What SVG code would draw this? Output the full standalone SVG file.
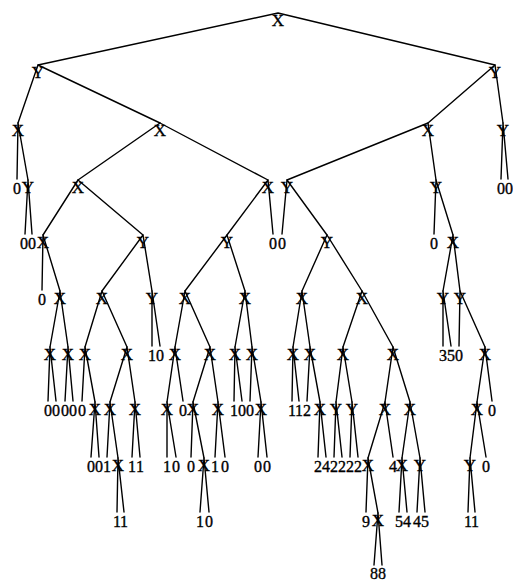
<svg xmlns="http://www.w3.org/2000/svg" width="513" height="584" viewBox="0 0 513 584">
<style>
  .bg{fill:#fff}
  #edges path{fill:none;stroke:#000;stroke-width:1.4;stroke-linecap:round}
  text{font-family:"Liberation Serif","DejaVu Serif",serif;fill:#000;text-anchor:middle;stroke:#000;stroke-width:0.35}
  .i text{font-size:17px}
  .l text{font-size:16px}
</style>
<rect class="bg" width="513" height="584"/>
<g id="edges">
  <path d="M278 13L38 65M278 13L495 65"/>
  <path d="M38 65L18 123M38 65L160 123"/>
  <path d="M495 65L428 123M495 65L503 123"/>
  <path d="M18 123L17 179M18 123L28 180"/>
  <path d="M28 180L25 234M28 180L32 234"/>
  <path d="M160 123L78 180M160 123L268 180"/>
  <path d="M78 180L43 235M78 180L143 235"/>
  <path d="M43 235L42 290M43 235L60 291"/>
  <path d="M60 291L50 347M60 291L68 347"/>
  <path d="M50 347L48 401M50 347L56 401"/>
  <path d="M68 347L65 401M68 347L73 401"/>
  <path d="M143 235L102 291M143 235L152 291"/>
  <path d="M102 291L85 347M102 291L127 347"/>
  <path d="M85 347L82 401M85 347L95 402"/>
  <path d="M95 402L91 457M95 402L99 457"/>
  <path d="M127 347L110 402M127 347L135 402"/>
  <path d="M110 402L107 457M110 402L118 458"/>
  <path d="M118 458L117 512M118 458L124 512"/>
  <path d="M135 402L132 457M135 402L140 457"/>
  <path d="M152 291L152 346M152 291L160 346"/>
  <path d="M268 180L227 235M268 180L273 234"/>
  <path d="M227 235L185 291M227 235L245 291"/>
  <path d="M185 291L175 347M185 291L210 347"/>
  <path d="M175 347L167 402M175 347L183 401"/>
  <path d="M167 402L167 457M167 402L176 457"/>
  <path d="M210 347L193 402M210 347L218 402"/>
  <path d="M193 402L191 457M193 402L204 458"/>
  <path d="M204 458L200 512M204 458L209 512"/>
  <path d="M218 402L215 457M218 402L225 457"/>
  <path d="M245 291L235 347M245 291L252 347"/>
  <path d="M235 347L234 401M235 347L242 401"/>
  <path d="M252 347L250 401M252 347L261 402"/>
  <path d="M261 402L258 457M261 402L267 457"/>
  <path d="M428 123L287 180M428 123L436 180"/>
  <path d="M287 180L282 234M287 180L327 235"/>
  <path d="M327 235L302 291M327 235L362 291"/>
  <path d="M302 291L293 347M302 291L310 347"/>
  <path d="M293 347L292 401M293 347L299 401"/>
  <path d="M310 347L307 401M310 347L320 402"/>
  <path d="M320 402L318 457M320 402L326 457"/>
  <path d="M362 291L343 347M362 291L393 347"/>
  <path d="M343 347L336 402M343 347L352 402"/>
  <path d="M336 402L334 457M336 402L342 457"/>
  <path d="M352 402L350 457M352 402L358 457"/>
  <path d="M393 347L385 402M393 347L410 402"/>
  <path d="M385 402L368 458M385 402L393 457"/>
  <path d="M368 458L366 512M368 458L378 513"/>
  <path d="M378 513L374 565M378 513L382 565"/>
  <path d="M410 402L402 458M410 402L420 458"/>
  <path d="M402 458L399 512M402 458L407 512"/>
  <path d="M420 458L417 512M420 458L425 512"/>
  <path d="M436 180L434 234M436 180L453 235"/>
  <path d="M453 235L443 291M453 235L460 291"/>
  <path d="M443 291L443 346M443 291L451 346"/>
  <path d="M460 291L459 346M460 291L485 347"/>
  <path d="M485 347L477 402M485 347L492 401"/>
  <path d="M477 402L470 458M477 402L486 457"/>
  <path d="M470 458L468 512M470 458L475 512"/>
  <path d="M503 123L501 179M503 123L508 179"/>
</g>
<!-- inner nodes: glyph hangs just below the point where its edges meet -->
<g class="i">
  <g id="n0"><text x="278" y="26">X</text></g>
  <g id="nA"><text x="38" y="78">Y</text></g>
  <g id="nB"><text x="495" y="78">Y</text></g>
  <g id="nC"><text x="18" y="136">X</text></g>
  <g id="nD"><text x="160" y="136">X</text></g>
  <g id="nE"><text x="428" y="136">X</text></g>
  <g id="nF"><text x="503" y="136">Y</text></g>
  <g id="nG"><text x="28" y="193">Y</text></g>
  <g id="nH"><text x="78" y="193">X</text></g>
  <g id="nI"><text x="268" y="193">X</text></g>
  <g id="nY1"><text x="287" y="193">Y</text></g>
  <g id="nY2"><text x="436" y="193">Y</text></g>
  <g id="nJ"><text x="43" y="248">X</text></g>
  <g id="nK"><text x="143" y="248">Y</text></g>
  <g id="nW"><text x="227" y="248">Y</text></g>
  <g id="nY3"><text x="327" y="248">Y</text></g>
  <g id="nZ1"><text x="453" y="248">X</text></g>
  <g id="nL"><text x="60" y="304">X</text></g>
  <g id="nO"><text x="102" y="304">X</text></g>
  <g id="nP"><text x="152" y="304">Y</text></g>
  <g id="nX1"><text x="185" y="304">X</text></g>
  <g id="nX2"><text x="245" y="304">X</text></g>
  <g id="nY4"><text x="302" y="304">X</text></g>
  <g id="nY5"><text x="362" y="304">X</text></g>
  <g id="nZ2"><text x="443" y="304">Y</text></g>
  <g id="nZ3"><text x="460" y="304">Y</text></g>
  <g id="nM"><text x="50" y="360">X</text></g>
  <g id="nN"><text x="68" y="360">X</text></g>
  <g id="nQ"><text x="85" y="360">X</text></g>
  <g id="nR"><text x="127" y="360">X</text></g>
  <g id="nX3"><text x="175" y="360">X</text></g>
  <g id="nX4"><text x="210" y="360">X</text></g>
  <g id="nX9"><text x="235" y="360">X</text></g>
  <g id="nX10"><text x="252" y="360">X</text></g>
  <g id="nY6"><text x="293" y="360">X</text></g>
  <g id="nY7"><text x="310" y="360">X</text></g>
  <g id="nY9"><text x="343" y="360">X</text></g>
  <g id="nY10"><text x="393" y="360">X</text></g>
  <g id="nZ4"><text x="485" y="360">X</text></g>
  <g id="nS"><text x="95" y="415">X</text></g>
  <g id="nT"><text x="110" y="415">X</text></g>
  <g id="nU"><text x="135" y="415">X</text></g>
  <g id="nX5"><text x="167" y="415">X</text></g>
  <g id="nX6"><text x="193" y="415">X</text></g>
  <g id="nX7"><text x="218" y="415">X</text></g>
  <g id="nX11"><text x="261" y="415">X</text></g>
  <g id="nY8"><text x="320" y="415">X</text></g>
  <g id="nY11"><text x="336" y="415">Y</text></g>
  <g id="nY12"><text x="352" y="415">Y</text></g>
  <g id="nY13"><text x="385" y="415">X</text></g>
  <g id="nY14"><text x="410" y="415">X</text></g>
  <g id="nZ5"><text x="477" y="415">X</text></g>
  <g id="nV"><text x="118" y="471">X</text></g>
  <g id="nX8"><text x="204" y="471">X</text></g>
  <g id="nY15"><text x="368" y="471">X</text></g>
  <g id="nY17"><text x="402" y="471">X</text></g>
  <g id="nY18"><text x="420" y="471">Y</text></g>
  <g id="nZ6"><text x="470" y="471">Y</text></g>
  <g id="nY16"><text x="378" y="526">X</text></g>
</g>
<!-- leaves: one digit each -->
<g class="l">
  <g id="c1"><text x="17" y="194">0</text></g>
  <g id="f1"><text x="501" y="194">0</text></g>
  <g id="f2"><text x="509" y="194">0</text></g>
  <g id="g1"><text x="24" y="249">0</text></g>
  <g id="g2"><text x="32" y="249">0</text></g>
  <g id="i1"><text x="273" y="249">0</text></g>
  <g id="y1a"><text x="282" y="249">0</text></g>
  <g id="y2a"><text x="434" y="249">0</text></g>
  <g id="j1"><text x="42" y="305">0</text></g>
  <g id="p1"><text x="152" y="361">1</text></g>
  <g id="p2"><text x="160" y="361">0</text></g>
  <g id="z2a"><text x="443" y="361">3</text></g>
  <g id="z2b"><text x="451" y="361">5</text></g>
  <g id="z3a"><text x="459" y="361">0</text></g>
  <g id="m1"><text x="48" y="416">0</text></g>
  <g id="m2"><text x="56" y="416">0</text></g>
  <g id="nn1"><text x="65" y="416">0</text></g>
  <g id="nn2"><text x="73" y="416">0</text></g>
  <g id="q1"><text x="82" y="416">0</text></g>
  <g id="x3a"><text x="183" y="416">0</text></g>
  <g id="x9a"><text x="234" y="416">1</text></g>
  <g id="x9b"><text x="242" y="416">0</text></g>
  <g id="x10a"><text x="250" y="416">0</text></g>
  <g id="y6a"><text x="292" y="416">1</text></g>
  <g id="y6b"><text x="299" y="416">1</text></g>
  <g id="y7a"><text x="307" y="416">2</text></g>
  <g id="z4a"><text x="492" y="416">0</text></g>
  <g id="s1"><text x="91" y="472">0</text></g>
  <g id="s2"><text x="99" y="472">0</text></g>
  <g id="t1"><text x="107" y="472">1</text></g>
  <g id="u1"><text x="132" y="472">1</text></g>
  <g id="u2"><text x="140" y="472">1</text></g>
  <g id="x5a"><text x="167" y="472">1</text></g>
  <g id="x5b"><text x="176" y="472">0</text></g>
  <g id="x6a"><text x="191" y="472">0</text></g>
  <g id="x7a"><text x="215" y="472">1</text></g>
  <g id="x7b"><text x="225" y="472">0</text></g>
  <g id="x11a"><text x="258" y="472">0</text></g>
  <g id="x11b"><text x="267" y="472">0</text></g>
  <g id="y8a"><text x="318" y="472">2</text></g>
  <g id="y8b"><text x="326" y="472">4</text></g>
  <g id="y11a"><text x="334" y="472">2</text></g>
  <g id="y11b"><text x="342" y="472">2</text></g>
  <g id="y12a"><text x="350" y="472">2</text></g>
  <g id="y12b"><text x="358" y="472">2</text></g>
  <g id="y13a"><text x="393" y="472">4</text></g>
  <g id="z5a"><text x="486" y="472">0</text></g>
  <g id="v1"><text x="117" y="527">1</text></g>
  <g id="v2"><text x="124" y="527">1</text></g>
  <g id="x8a"><text x="200" y="527">1</text></g>
  <g id="x8b"><text x="209" y="527">0</text></g>
  <g id="y15a"><text x="366" y="527">9</text></g>
  <g id="y17a"><text x="399" y="527">5</text></g>
  <g id="y17b"><text x="407" y="527">4</text></g>
  <g id="y18a"><text x="417" y="527">4</text></g>
  <g id="y18b"><text x="425" y="527">5</text></g>
  <g id="z6a"><text x="468" y="527">1</text></g>
  <g id="z6b"><text x="475" y="527">1</text></g>
  <g id="y16a"><text x="374" y="579">8</text></g>
  <g id="y16b"><text x="382" y="579">8</text></g>
</g>
</svg>
